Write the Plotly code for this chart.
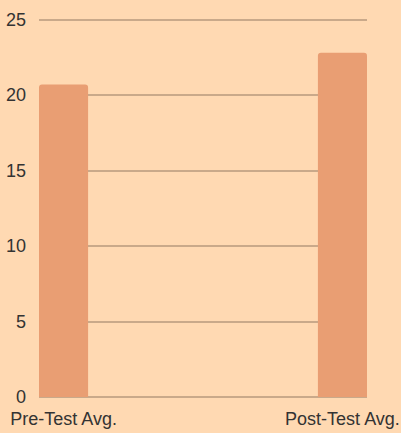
import plotly.graph_objects as go

categories = ["Pre-Test Avg.", "Post-Test Avg."]
values = [20.7, 22.8]
y_ticks = [0, 5, 10, 15, 20, 25]

fig = go.Figure(go.Bar(
    x=categories, y=values,
    marker=dict(color="#E99E73", line=dict(width=0)),
    width=0.176,
))
fig.update_layout(
    width=401, height=433,
    paper_bgcolor="#FFD9B2", plot_bgcolor="#FFD9B2",
    margin=dict(l=39, r=34, t=18, b=36, autoexpand=False),
    font=dict(family="Liberation Sans, Arial, sans-serif", size=18, color="#333333"),
    barcornerradius=3,
    showlegend=False,
)
fig.update_xaxes(range=[-0.088, 1.088], showgrid=False, showline=False, ticks="",
                 ticklen=0, automargin=False, ticklabelstandoff=9)
fig.update_yaxes(range=[0, 25.1], tickvals=y_ticks, showgrid=True, gridcolor="#C9A98A",
                 gridwidth=1.5, zeroline=True, zerolinecolor="#C9A98A", zerolinewidth=1.5,
                 showline=False, ticks="", automargin=False, ticklabelstandoff=12)
fig.write_html("out.html", config={"displayModeBar": False},
               post_script="document.body.style.margin='0';document.body.style.padding='0';")
